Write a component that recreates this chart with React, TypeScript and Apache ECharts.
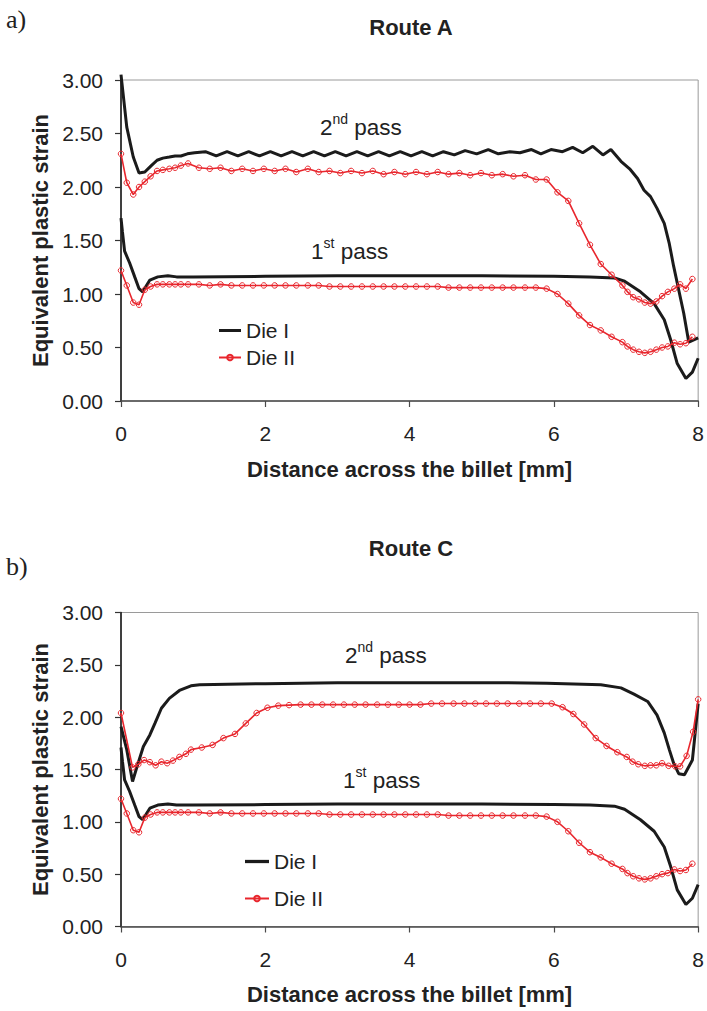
import React, { useEffect, useRef } from "react";
import * as echarts from "echarts";

// ---- Data ----
// Die I (black, no markers), 1st pass – same in both routes
const BLACK_FIRST: [number, number][] = [
  [0, 1.71], [0.02, 1.58], [0.05, 1.40], [0.12, 1.29], [0.19, 1.16], [0.25, 1.05], [0.3, 1.02],
  [0.4, 1.13], [0.51, 1.16], [0.65, 1.17], [0.77, 1.16], [1.0, 1.16], [2.0, 1.165], [3.0, 1.17],
  [4.0, 1.17], [5.0, 1.17], [6.0, 1.165], [6.5, 1.16], [6.84, 1.15], [6.98, 1.12], [7.2, 1.02],
  [7.39, 0.91], [7.53, 0.76], [7.62, 0.57], [7.71, 0.35], [7.83, 0.21], [7.92, 0.27], [8.0, 0.40],
];

// Die I, 2nd pass, Route A
const BLACK_A_SECOND: [number, number][] = [
  [0, 3.05], [0.08, 2.56], [0.17, 2.28], [0.25, 2.13], [0.33, 2.14], [0.42, 2.2], [0.5, 2.25],
  [0.58, 2.27], [0.67, 2.28], [0.75, 2.29], [0.83, 2.29], [0.92, 2.31], [1.02, 2.32],
  [1.17, 2.33], [1.32, 2.29], [1.47, 2.33], [1.62, 2.29], [1.77, 2.33], [1.92, 2.29], [2.07, 2.33],
  [2.22, 2.29], [2.37, 2.33], [2.52, 2.29], [2.67, 2.33], [2.82, 2.29], [2.97, 2.33], [3.12, 2.29],
  [3.27, 2.33], [3.42, 2.29], [3.57, 2.33], [3.72, 2.29], [3.87, 2.33], [4.02, 2.29], [4.17, 2.33],
  [4.32, 2.29], [4.47, 2.33], [4.62, 2.3], [4.77, 2.34], [4.93, 2.31], [5.09, 2.35], [5.23, 2.31],
  [5.39, 2.33], [5.53, 2.32], [5.69, 2.35], [5.82, 2.31], [5.96, 2.35], [6.12, 2.33], [6.26, 2.37],
  [6.4, 2.32], [6.54, 2.38], [6.68, 2.3], [6.79, 2.35], [6.93, 2.24], [7.05, 2.17], [7.16, 2.08],
  [7.25, 1.97], [7.34, 1.91], [7.43, 1.8], [7.53, 1.66], [7.6, 1.47], [7.66, 1.26], [7.73, 1.04],
  [7.8, 0.82], [7.87, 0.55], [8.0, 0.59],
];

// Die I, 2nd pass, Route C
const BLACK_C_SECOND: [number, number][] = [
  [0, 1.91], [0.08, 1.69], [0.16, 1.385], [0.21, 1.5], [0.31, 1.72], [0.4, 1.83], [0.47, 1.94],
  [0.56, 2.085], [0.67, 2.18], [0.81, 2.255], [0.97, 2.3], [1.09, 2.31], [2.0, 2.32], [3.0, 2.33],
  [4.0, 2.33], [5.0, 2.33], [5.9, 2.325], [6.65, 2.31], [6.93, 2.28], [7.11, 2.22], [7.3, 2.15],
  [7.43, 2.02], [7.53, 1.85], [7.6, 1.69], [7.66, 1.56], [7.73, 1.46], [7.81, 1.45], [7.92, 1.59],
  [8.0, 2.13],
];

// Die II (red, markers): node positions
const RED_X = [
  0, 0.08, 0.17, 0.25, 0.33, 0.41, 0.5, 0.58, 0.67, 0.75, 0.83, 0.93,
  1.08, 1.23, 1.38, 1.53, 1.68, 1.83, 1.98, 2.13, 2.28, 2.43, 2.59, 2.74, 2.89, 3.04, 3.19, 3.34,
  3.49, 3.64, 3.79, 3.94, 4.09, 4.24, 4.39, 4.54, 4.69, 4.84, 4.99, 5.14, 5.29, 5.44, 5.6, 5.75,
  5.9, 6.05, 6.2, 6.35, 6.5, 6.65, 6.8, 6.95,
  7.02, 7.1, 7.18, 7.26, 7.34, 7.42, 7.5, 7.58, 7.67, 7.75, 7.83, 7.92,
];

// Die II, 1st pass – same in both routes
const RED_FIRST = [
  1.22, 1.08, 0.92, 0.9, 1.04, 1.07, 1.09, 1.09, 1.09, 1.09, 1.09, 1.09,
  1.09, 1.08, 1.09, 1.08, 1.08, 1.08, 1.08, 1.08, 1.08, 1.08, 1.08, 1.08, 1.07, 1.07, 1.07, 1.07,
  1.07, 1.07, 1.07, 1.07, 1.07, 1.07, 1.07, 1.06, 1.06, 1.06, 1.06, 1.06, 1.06, 1.06, 1.06, 1.06,
  1.05, 1.0, 0.91, 0.8, 0.71, 0.66, 0.6, 0.55,
  0.51, 0.48, 0.46, 0.45, 0.46, 0.48, 0.5, 0.51, 0.545, 0.53, 0.54, 0.6,
];

// Die II, 2nd pass, Route A
const RED_A_SECOND = [
  2.31, 2.04, 1.93, 2.0, 2.05, 2.1, 2.15, 2.16, 2.17, 2.18, 2.2, 2.22,
  2.18, 2.17, 2.18, 2.15, 2.17, 2.15, 2.17, 2.15, 2.17, 2.14, 2.17, 2.14, 2.15, 2.13, 2.15, 2.13,
  2.15, 2.12, 2.14, 2.12, 2.14, 2.12, 2.14, 2.12, 2.13, 2.11, 2.13, 2.11, 2.12, 2.1, 2.11, 2.07,
  2.07, 1.95, 1.87, 1.66, 1.46, 1.28, 1.18, 1.08,
  1.02, 0.97, 0.95, 0.92, 0.91, 0.93, 0.98, 1.02, 1.05, 1.09, 1.05, 1.14,
];

// Die II, 2nd pass, Route C: node positions and values
const RED_C_X = [
  0, 0.16, 0.24, 0.32, 0.4, 0.48, 0.56, 0.64, 0.72, 0.81, 0.9, 0.97,
  1.12, 1.27, 1.42, 1.58, 1.73, 1.88, 2.03, 2.18, 2.33, 2.49, 2.64, 2.79, 2.94, 3.09, 3.24, 3.39,
  3.55, 3.7, 3.85, 4.0, 4.15, 4.3, 4.45, 4.61, 4.76, 4.91, 5.06, 5.21, 5.36, 5.52, 5.67, 5.82,
  5.97, 6.12, 6.27, 6.42, 6.58, 6.73, 6.88,
  7.01, 7.09, 7.17, 7.26, 7.34, 7.42, 7.5, 7.59, 7.68, 7.75, 7.84, 7.93, 8.0,
];
const RED_C_SECOND = [
  2.04, 1.52, 1.55, 1.59, 1.57, 1.54, 1.575, 1.56, 1.585, 1.62, 1.65, 1.69,
  1.71, 1.735, 1.8, 1.84, 1.94, 2.04, 2.09, 2.11, 2.115, 2.12, 2.12, 2.12, 2.12, 2.12, 2.12, 2.12,
  2.12, 2.12, 2.12, 2.12, 2.12, 2.13, 2.13, 2.13, 2.13, 2.13, 2.13, 2.13, 2.13, 2.13, 2.13, 2.13,
  2.13, 2.095, 2.03, 1.93, 1.8, 1.725, 1.665,
  1.62, 1.575, 1.55, 1.535, 1.54, 1.54, 1.56, 1.535, 1.53, 1.53, 1.63, 1.86, 2.17,
];

const X_TICKS = [0, 2, 4, 6, 8];
const Y_TICKS = [0, 0.5, 1, 1.5, 2, 2.5, 3];

const FONT = "'Liberation Sans', Arial, sans-serif";
const RED = "#e8262d";
const BLACK = "#1b1b1b";
const TXT = "#222";

const pairs = (xs: number[], ys: number[]) => xs.map((x, i) => [x, ys[i]]);

export default function App() {
  const ref = useRef<HTMLDivElement>(null);
  useEffect(() => {
    if (!ref.current) return;
    const chart = echarts.init(ref.current, undefined, { renderer: "svg" });

    const grids = [
      { left: 121, top: 80, width: 580, height: 321 },
      { left: 121, top: 612.5, width: 580, height: 314 },
    ];

    const xAxis = grids.map((_, i) => ({
      type: "value",
      gridIndex: i,
      min: X_TICKS[0],
      max: X_TICKS[X_TICKS.length - 1],
      interval: 2,
      axisLine: { show: true, lineStyle: { color: "#4a4a4a", width: 1.5 } },
      axisTick: { show: true, length: 6, lineStyle: { color: "#4a4a4a", width: 1.2 } },
      axisLabel: { fontSize: 21, color: TXT, fontFamily: FONT, margin: 22 },
      splitLine: { show: false },
      name: "Distance across the billet [mm]",
      nameLocation: "middle",
      nameGap: 57,
      nameTextStyle: { fontSize: 22, fontWeight: "bold", color: TXT, fontFamily: FONT },
    }));

    const yAxis = grids.map((_, i) => ({
      type: "value",
      gridIndex: i,
      min: Y_TICKS[0],
      max: Y_TICKS[Y_TICKS.length - 1],
      interval: 0.5,
      axisLine: { show: true, lineStyle: { color: "#111", width: 1.5 } },
      axisTick: { show: true, length: 6, lineStyle: { color: "#333", width: 1.2 } },
      axisLabel: {
        fontSize: 21,
        color: TXT,
        fontFamily: FONT,
        margin: 18,
        formatter: (v: number) => v.toFixed(2),
      },
      splitLine: { show: false },
      name: "Equivalent plastic strain",
      nameLocation: "middle",
      nameGap: 69,
      nameRotate: 90,
      nameTextStyle: { fontSize: 22, fontWeight: "bold", color: TXT, fontFamily: FONT },
    }));

    const blackLine = (name: string, data: any, i: number) => ({
      type: "line",
      name,
      xAxisIndex: i,
      yAxisIndex: i,
      data,
      symbol: "none",
      showSymbol: false,
      clip: false,
      lineStyle: { color: BLACK, width: 3 },
      itemStyle: { color: BLACK },
      z: 2,
      silent: true,
    });
    const redLine = (name: string, data: any, i: number) => ({
      type: "line",
      name,
      xAxisIndex: i,
      yAxisIndex: i,
      data,
      symbol: "circle",
      symbolSize: 5.5,
      clip: false,
      lineStyle: { color: RED, width: 1.6 },
      itemStyle: { color: "rgba(255,255,255,0)", borderColor: RED, borderWidth: 1 },
      z: 3,
      silent: true,
    });

    const series = [
      blackLine("Die I", BLACK_A_SECOND, 0),
      blackLine("Die I", BLACK_FIRST, 0),
      redLine("Die II", pairs(RED_X, RED_A_SECOND), 0),
      redLine("Die II", pairs(RED_X, RED_FIRST), 0),
      blackLine("Die I", BLACK_C_SECOND, 1),
      blackLine("Die I", BLACK_FIRST, 1),
      redLine("Die II", pairs(RED_C_X, RED_C_SECOND), 1),
      redLine("Die II", pairs(RED_X, RED_FIRST), 1),
    ];

    const legendBase = {
      data: [{ name: "Die I", icon: "path://M0,0H22V3H0Z" }, { name: "Die II" }],
      orient: "vertical",
      selectedMode: false,
      itemHeight: 7,
      textStyle: { fontSize: 21, color: TXT, fontFamily: FONT },
    };

    const passLabel = (x: number, y: number, base: string, sup: string) => ({
      type: "text",
      x,
      y,
      silent: true,
      style: {
        text: `{n|${base}}{s|${sup}}{n| pass}`,
        align: "left",
        verticalAlign: "middle",
        fill: TXT,
        rich: {
          n: { fontSize: 22.5, fontFamily: FONT, lineHeight: 31, fill: TXT },
          s: { fontSize: 14, fontFamily: FONT, lineHeight: 15, verticalAlign: "top", fill: TXT },
        },
      },
    });

    const plainText = (x: number, y: number, text: string, font: string, align = "center") => ({
      type: "text",
      x,
      y,
      silent: true,
      style: { text, font, fill: TXT, align, verticalAlign: "middle" },
    });

    chart.setOption({
      animation: false,
      backgroundColor: "#ffffff",
      grid: grids.map((g) => ({ ...g, show: true, borderColor: "#9a9a9a", borderWidth: 1, backgroundColor: "transparent" })),
      xAxis,
      yAxis,
      legend: [
        { ...legendBase, left: 213, top: 315, itemWidth: 22, itemGap: 6 },
        { ...legendBase, left: 239, top: 846, itemWidth: 24, itemGap: 16 },
      ],
      series,
      graphic: [
        plainText(6, 19, "a)", `26px 'Liberation Serif', 'Times New Roman', serif`, "left"),
        plainText(411, 27, "Route A", `bold 22px ${FONT}`),
        plainText(6, 566, "b)", `26px 'Liberation Serif', 'Times New Roman', serif`, "left"),
        plainText(411, 548, "Route C", `bold 22px ${FONT}`),
        passLabel(320, 127, "2", "nd"),
        passLabel(311, 251, "1", "st"),
        passLabel(345, 655, "2", "nd"),
        passLabel(343, 780, "1", "st"),
      ],
    });

    return () => chart.dispose();
  }, []);

  return (
    <div
      ref={ref}
      style={{ position: "fixed", left: 0, top: 0, width: 707, height: 1011, background: "#fff" }}
    />
  );
}
